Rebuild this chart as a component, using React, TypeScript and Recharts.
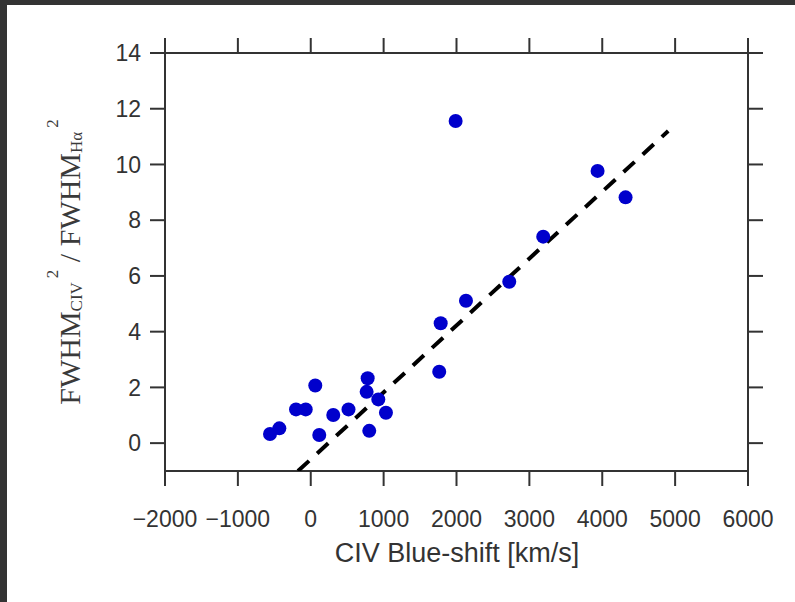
import { ScatterChart, Scatter, XAxis, YAxis } from 'recharts';

// CIV blue-shift (km/s) and FWHM ratio
const blueshift = [-559, -431, -202, -69, 62, 117, 309, 518, 781, 767, 927, 1032, 803, 1763, 1783, 1988, 2130, 2724, 3190, 3936, 4320];
const fwhmRatio = [0.33, 0.53, 1.21, 1.21, 2.07, 0.29, 1.01, 1.21, 2.33, 1.84, 1.57, 1.09, 0.44, 2.56, 4.3, 11.56, 5.11, 5.79, 7.41, 9.77, 8.82];

// dashed fit line end points
const fitX = [-175, 4905];
const fitY = [-1.0, 11.2];

const xTicks = [-2000, -1000, 0, 1000, 2000, 3000, 4000, 5000, 6000];
const yTicks = [0, 2, 4, 6, 8, 10, 12, 14];

const points = blueshift.map((x, i) => ({ x, y: fwhmRatio[i] }));
const fitLine = fitX.map((x, i) => ({ x, y: fitY[i] }));

const axisColor = '#333';
const sans = '"Liberation Sans", Arial, sans-serif';
const serif = '"Liberation Serif", "DejaVu Serif", serif';

const fmt = (v: number) => (v < 0 ? `\u2212${Math.abs(v)}` : `${v}`);
const blank = () => '';

function YLabel() {
  return (
    <text
      x={69}
      y={262}
      transform="rotate(-90, 69, 262)"
      textAnchor="middle"
      dominantBaseline="central"
      fill="#3a3a3a"
      fontFamily={serif}
      fontSize={30}
    >
      FWHM
      <tspan fontSize={17} dy={7}>CIV</tspan>
      <tspan fontSize={17} dy={-24} dx={4}>2</tspan>
      <tspan dy={17}> / FWHM</tspan>
      <tspan fontSize={17} dy={7}>Hα</tspan>
      <tspan fontSize={17} dy={-24} dx={4}>2</tspan>
    </text>
  );
}

function XLabel() {
  return (
    <text x={457} y={553} textAnchor="middle" dominantBaseline="central" fill="#333" fontFamily={sans} fontSize={27}>
      CIV Blue-shift [km/s]
    </text>
  );
}

const Dot = (props: any) => <circle cx={props.cx} cy={props.cy} r={7} fill="#0000cc" />;
const NoDot = () => <g />;

export default function App() {
  return (
    <div style={{ position: 'absolute', left: 0, top: 0, width: 795, height: 602, background: '#333' }}>
      <div style={{ position: 'absolute', left: 7, top: 5, width: 788, height: 597, background: '#fff' }} />
      <div style={{ position: 'absolute', left: 0, top: 0 }}>
        <ScatterChart width={795} height={602} margin={{ top: 38, right: 32, bottom: 71, left: 105 }}>
          <XAxis
            type="number"
            dataKey="x"
            domain={[-2000, 6000]}
            ticks={xTicks}
            allowDataOverflow
            interval={0}
            tickFormatter={fmt}
            height={60}
            tickSize={15}
            tickMargin={25}
            axisLine={{ stroke: axisColor, strokeWidth: 2 }}
            tickLine={{ stroke: axisColor, strokeWidth: 2 }}
            tick={{ fill: '#333', fontFamily: sans, fontSize: 23 }}
            label={{ content: () => <XLabel /> }}
          />
          <XAxis
            xAxisId="top"
            orientation="top"
            type="number"
            dataKey="x"
            domain={[-2000, 6000]}
            ticks={xTicks}
            allowDataOverflow
            interval={0}
            height={15}
            tickSize={15}
            tickFormatter={blank}
            axisLine={{ stroke: axisColor, strokeWidth: 2 }}
            tickLine={{ stroke: axisColor, strokeWidth: 2 }}
          />
          <YAxis
            type="number"
            dataKey="y"
            domain={[-1, 14]}
            ticks={yTicks}
            allowDataOverflow
            interval={0}
            width={60}
            tickSize={15}
            tickMargin={9}
            axisLine={{ stroke: axisColor, strokeWidth: 2 }}
            tickLine={{ stroke: axisColor, strokeWidth: 2 }}
            tick={{ fill: '#333', fontFamily: sans, fontSize: 23 }}
            label={{ content: () => <YLabel /> }}
          />
          <YAxis
            yAxisId="right"
            orientation="right"
            type="number"
            dataKey="y"
            domain={[-1, 14]}
            ticks={yTicks}
            allowDataOverflow
            interval={0}
            width={15}
            tickSize={15}
            tickFormatter={blank}
            axisLine={{ stroke: axisColor, strokeWidth: 2 }}
            tickLine={{ stroke: axisColor, strokeWidth: 2 }}
          />
          <Scatter
            data={fitLine}
            xAxisId="top"
            yAxisId="right"
            line={{ stroke: '#000', strokeWidth: 4, strokeDasharray: '15 11' }}
            shape={NoDot}
            isAnimationActive={false}
          />
          <Scatter data={points} shape={Dot} isAnimationActive={false} />
        </ScatterChart>
      </div>
    </div>
  );
}
